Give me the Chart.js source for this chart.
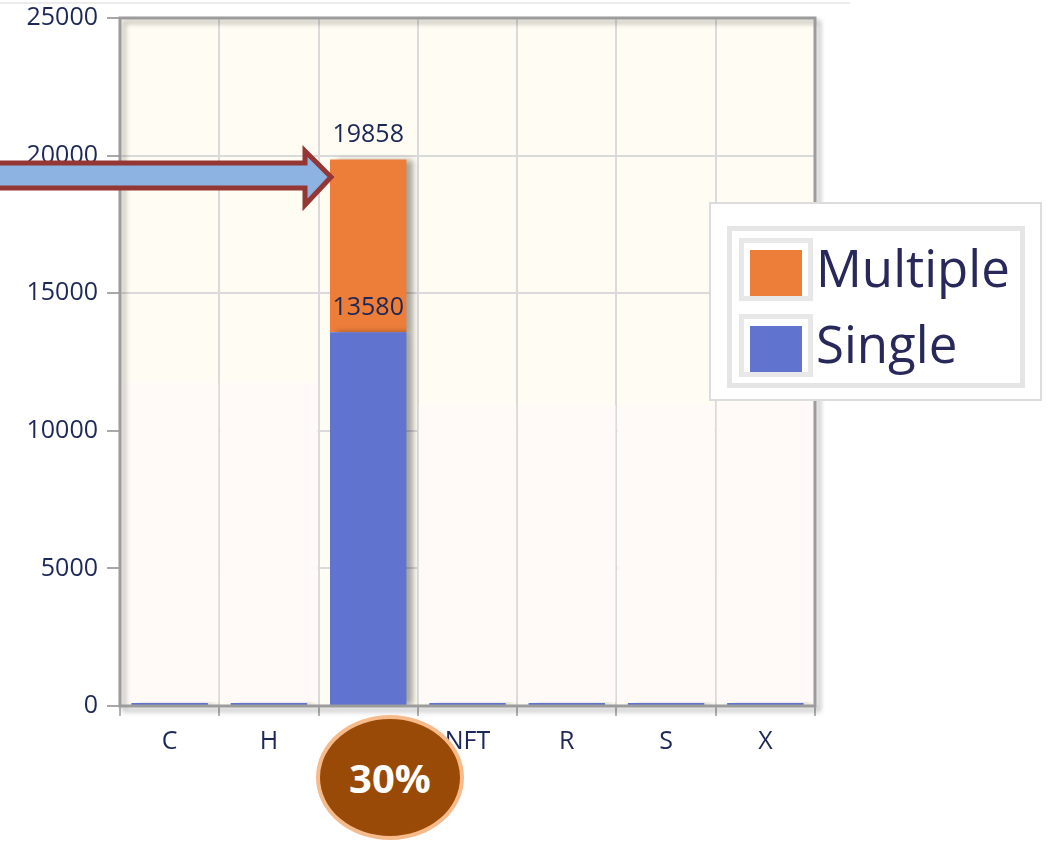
<!DOCTYPE html>
<html lang="en">
<head>
    <meta charset="UTF-8">
    <title>Single vs Multiple</title>
    <script src="https://cdn.jsdelivr.net/npm/chart.js@4.4.0/dist/chart.umd.min.js"></script>
    <style>
        body { margin: 0; background: #ffffff; font-family: "Open Sans", sans-serif; }
        #wrap { position: relative; width: 1048px; height: 843px; overflow: hidden; }
        #topline { position: absolute; left: 0; top: 2px; width: 850px; height: 2px; background: #ececec; }
        #legend { position: absolute; left: 709px; top: 202px; width: 333px; height: 199px;
                  box-sizing: border-box; border: 2px solid #dcdcdc; background: #fff; }
        #legendInner { position: absolute; left: 16px; top: 22px; width: 298px; height: 162px;
                       box-sizing: border-box; border: 5px solid #e5e5e5; }
        .item { position: absolute; left: 7px; height: 63px; width: 280px; }
        .swatch { position: absolute; left: 0; top: 0; width: 74px; height: 63px; box-sizing: border-box;
                  border: 5px solid #e8e8e8; }
        .swatch span { position: absolute; left: 6px; top: 7px; width: 52px; height: 46px; }
        .label { position: absolute; left: 77px; top: -4px; font-size: 51px; line-height: 66px; color: #28285a; }
        #badge { position: absolute; left: 316px; top: 715px; width: 148px; height: 125px; box-sizing: border-box;
                 border-radius: 50%; background: #9a4a07; border: 4px solid #f7ba8b; color: #fff;
                 font-weight: bold; font-size: 40px; line-height: 117px; text-align: center; }
        #arrow { position: absolute; left: 0; top: 0; }
    </style>
</head>
<body>
<div id="wrap">
    <div id="topline"></div>
    <canvas id="canvas" width="1048" height="843"></canvas>
    <div id="legend"><div id="legendInner"></div></div>
    <svg id="arrow" width="1048" height="843">
        <polygon points="-10,163 305,163 305,151 331,177 305,205 305,188 -10,188"
                 fill="#8db3e2" stroke="#943634" stroke-width="5" stroke-linejoin="miter"/>
    </svg>
    <div id="badge">30%</div>
</div>
<script>
    const categories = ['C', 'H', 'M', 'NFT', 'R', 'S', 'X']
    const singleValues = [110, 110, 13580, 110, 110, 110, 110]
    const multipleValues = [0, 0, 6278, 0, 0, 0, 0]
    const yTicks = [0, 5000, 10000, 15000, 20000, 25000]

    // white boxes laid over the hidden bars (value of their top edge)
    const coverTops = [11740, 11740, null, 10940, 10940, 10940, 11050]

    const textColor = '#1c2858'
    const font = { family: 'Open Sans', size: 25 }

    const bgPlugin = {
        id: 'bg',
        beforeDraw: (chart) => {
            const { ctx, chartArea: a } = chart
            ctx.save()
            ctx.fillStyle = '#fffcf3'
            ctx.fillRect(a.left, a.top, a.right - a.left, a.bottom - a.top)
            ctx.restore()
        }
    }

    const shadowPlugin = {
        id: 'barShadow',
        beforeDatasetDraw: (chart) => {
            const ctx = chart.ctx
            ctx.save()
            ctx.shadowColor = 'rgba(0,0,0,0.35)'
            ctx.shadowBlur = 6
            ctx.shadowOffsetX = 7
        },
        afterDatasetDraw: (chart) => {
            chart.ctx.restore()
        }
    }

    const labelPlugin = {
        id: 'valueLabels',
        afterDatasetsDraw: (chart) => {
            const ctx = chart.ctx
            const y = chart.scales.y
            ctx.save()
            ctx.font = font.size + 'px ' + font.family
            ctx.fillStyle = textColor
            ctx.textAlign = 'center'
            ctx.textBaseline = 'bottom'
            chart.data.datasets.forEach((ds, di) => {
                const meta = chart.getDatasetMeta(di)
                ds.data.forEach((v, i) => {
                    if (!v) return
                    let total = 0
                    for (let k = 0; k <= di; k++) total += chart.data.datasets[k].data[i]
                    const bar = meta.data[i]
                    ctx.fillText(String(total), bar.x, y.getPixelForValue(total) - 12)
                })
            })
            ctx.restore()
        }
    }

    const coverPlugin = {
        id: 'covers',
        afterDatasetsDraw: (chart) => {
            const { ctx, scales: { x, y } } = chart
            const w = (x.right - x.left) / categories.length
            ctx.save()
            ctx.fillStyle = '#fffaf7'
            coverTops.forEach((t, i) => {
                if (t === null) return
                const cx = x.getPixelForValue(i)
                const top = y.getPixelForValue(t)
                const bottom = y.getPixelForValue(150)
                ctx.fillRect(cx - w / 2 + 1, top, w - 2, bottom - top)
            })
            ctx.restore()
        }
    }

    const framePlugin = {
        id: 'frame',
        afterDraw: (chart) => {
            const { ctx, chartArea: a } = chart
            ctx.save()
            ctx.shadowColor = 'rgba(0,0,0,0.3)'
            ctx.shadowBlur = 5
            ctx.shadowOffsetX = 4
            ctx.shadowOffsetY = 4
            ctx.strokeStyle = '#9c9c9c'
            ctx.lineWidth = 3
            ctx.strokeRect(a.left, a.top, a.right - a.left, a.bottom - a.top)
            ctx.restore()
        }
    }

    const drawLegend = (datasets) => {
        const box = document.getElementById('legendInner')
        datasets.slice().reverse().forEach((ds, i) => {
            const item = document.createElement('div')
            item.className = 'item'
            item.style.top = (7 + i * 76) + 'px'
            item.innerHTML = '<div class="swatch"><span style="background:' + ds.backgroundColor + '"></span></div>' +
                '<div class="label">' + ds.label + '</div>'
            box.appendChild(item)
        })
    }

    const datasets = [
        { label: 'Single', data: singleValues, backgroundColor: '#5f73cf' },
        { label: 'Multiple', data: multipleValues, backgroundColor: '#ed7e3a' }
    ]

    new Chart(document.getElementById('canvas').getContext('2d'), {
        type: 'bar',
        data: { labels: categories, datasets: datasets },
        options: {
            responsive: false,
            animation: false,
            layout: { padding: { left: 0, right: 233, top: 0, bottom: 67 } },
            datasets: { bar: { categoryPercentage: 1, barPercentage: 0.77 } },
            plugins: { legend: { display: false }, tooltip: { enabled: false } },
            scales: {
                x: {
                    stacked: true,
                    afterFit: (s) => { s.height = 70 },
                    grid: { color: '#dadada', lineWidth: 2, tickLength: 10, tickColor: '#b5b5b5' },
                    border: { display: false },
                    ticks: { color: textColor, font: font, padding: 11 }
                },
                y: {
                    stacked: true,
                    min: 0,
                    max: 25000,
                    afterFit: (s) => { s.width = 120; s.paddingTop = 18 },
                    afterBuildTicks: (s) => { s.ticks = yTicks.map(v => ({ value: v })) },
                    grid: { color: '#dadada', lineWidth: 2, tickLength: 13, tickColor: '#a8a8a8' },
                    border: { display: false },
                    ticks: { color: textColor, font: font, padding: 9, callback: (v) => String(v) }
                }
            }
        },
        plugins: [bgPlugin, shadowPlugin, labelPlugin, coverPlugin, framePlugin]
    })

    drawLegend(datasets)
</script>
</body>
</html>
